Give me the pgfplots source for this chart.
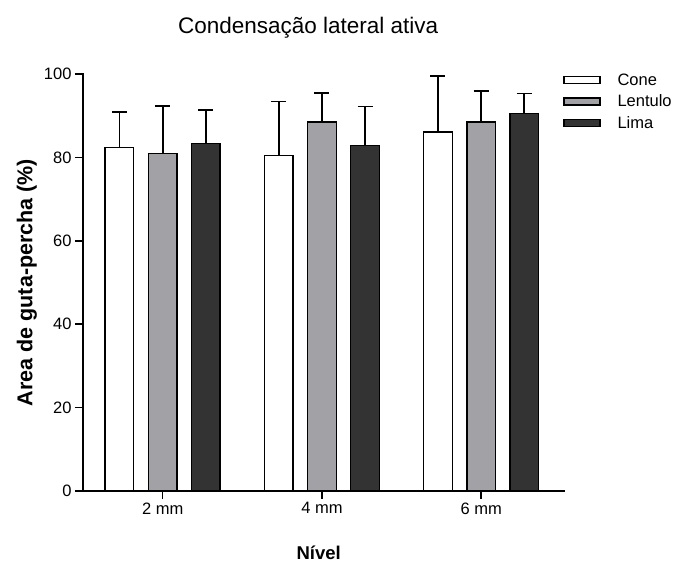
\documentclass[border=0pt]{standalone}
\usepackage{fontspec}
\setmainfont{Liberation Sans}
\usepackage{pgfplots}
\pgfplotsset{compat=1.18}

\definecolor{lentulo}{RGB}{162,161,166}
\definecolor{lima}{RGB}{51,51,51}

\pgfplotsset{
  upper err/.style={
    error bars/.cd,
      y dir=plus, y explicit,
      error bar style={line width=1.8pt, black},
      error mark options={line width=1.8pt, mark size=7.5pt, black, rotate=90},
  },
}

\begin{document}
\begin{tikzpicture}
\begin{axis}[
  scale only axis,
  width=481pt, height=417pt,
  xmin=0.5, xmax=3.52,
  ymin=0, ymax=100,
  ybar,
  axis lines*=left,
  axis line style={line width=1.8pt, line cap=rect},
  every tick/.style={black, line width=1.6pt},
  tick align=outside,
  major tick length=8pt,
  xtick={1,2,3},
  xticklabels={2 mm, 4 mm, 6 mm},
  ytick={0,20,40,60,80,100},
  /pgf/number format/assume math mode=true,
  tick label style={font=\fontsize{16.5}{19}\selectfont},
  title={Condensação lateral ativa},
  title style={at={(axis description cs:0.468,1)}, anchor=base, yshift=34pt,
    font=\fontsize{22.5}{26}\selectfont},
  xlabel={\textbf{Nível}},
  xlabel style={at={(axis description cs:0.49,0)}, anchor=base, yshift=-69pt,
    font=\fontsize{18.5}{22}\selectfont},
  ylabel={\textbf{Area de guta-percha (\%)}},
  ylabel style={at={(axis description cs:-0.105,0.5)}, anchor=base,
    font=\fontsize{21.5}{25}\selectfont},
  bar width=28.6pt,
  every axis plot/.append style={draw=black, line width=1.3pt},
  legend style={at={(axis description cs:0.998,1.006)}, anchor=north west,
    draw=none, fill=none, inner sep=0pt, row sep=4pt,
    font=\fontsize{16.5}{19}\selectfont,
    /tikz/every odd column/.append style={column sep=15pt}},
  legend cell align=left,
  legend image code/.code={\draw[#1, line width=1.3pt] (0pt,-3.5pt) rectangle (36pt,3.5pt);},
]
\addplot[bar shift=-43.2pt, fill=white, upper err]
  coordinates {(1,82.3) +- (0,8.5) (2,80.4) +- (0,13.0) (3,86.1) +- (0,13.4)};
\addplot[bar shift=0pt, fill=lentulo, upper err]
  coordinates {(1,80.9) +- (0,11.5) (2,88.5) +- (0,7.0) (3,88.5) +- (0,7.4)};
\addplot[bar shift=43.2pt, fill=lima, upper err]
  coordinates {(1,83.3) +- (0,8.0) (2,82.8) +- (0,9.4) (3,90.6) +- (0,4.7)};
\legend{Cone, Lentulo, Lima}
\end{axis}
\pgfresetboundingbox
\useasboundingbox (-83pt,-78pt) rectangle (592pt,491pt);
\end{tikzpicture}
\end{document}
